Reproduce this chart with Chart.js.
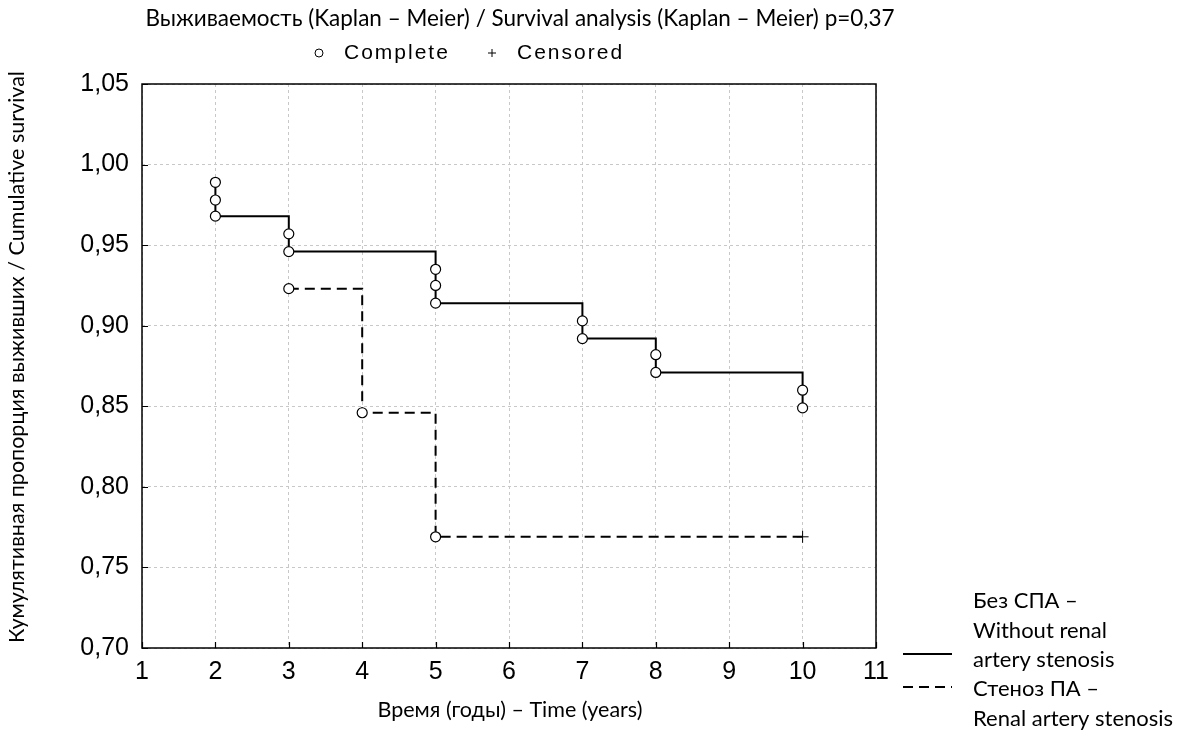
<!DOCTYPE html>
<html>
<head>
<meta charset="utf-8">
<script src="https://cdn.jsdelivr.net/npm/chart.js@4.4.1/dist/chart.umd.min.js"></script>
<style>
  html, body { margin: 0; background: #fff; }
  #wrap { width: 1178px; height: 738px; position: relative; }
</style>
</head>
<body>
<div id="wrap"><canvas id="km"></canvas></div>
<script>
// Kaplan-Meier steps
const noStenosisTime = [2, 2, 2, 3, 3, 5, 5, 5, 7, 7, 8, 8, 10, 10];
const noStenosisSurv = [0.989, 0.978, 0.968, 0.957, 0.946, 0.935, 0.925, 0.914, 0.903, 0.892, 0.882, 0.871, 0.860, 0.849];
const stenosisTime = [3, 4, 5, 10];
const stenosisSurv = [0.923, 0.846, 0.769, 0.769];
const stenosisCensored = [false, false, false, true];

const seriesNames = ["Без СПА – Without renal artery stenosis", "Стеноз ПА – Renal artery stenosis"];
const xMin = 1, xMax = 11;
const yMin = 0.70, yMax = 1.05, yStep = 0.05;

const titleText = "Выживаемость (Kaplan – Meier) / Survival analysis (Kaplan – Meier) p=0,37";
const xTitle = "Время (годы) – Time (years)";
const yTitle = "Кумулятивная пропорция выживших / Cumulative survival";
const legendLines1 = ["Без СПА –", "Without renal", "artery stenosis"];
const legendLines2 = ["Стеноз ПА –", "Renal artery stenosis"];

const textFont = "Lato, 'Open Sans', sans-serif";
const arial = "'Liberation Sans', Arial, sans-serif";

const toPoints = (xs, ys) => xs.map((x, i) => ({ x: x, y: ys[i] }));

// frame, inward ticks, titles and legend
const decorations = {
  id: "decorations",
  afterDraw(chart) {
    const ctx = chart.ctx;
    const a = chart.chartArea;
    const xs = chart.scales.x, ys = chart.scales.y;
    ctx.save();
    ctx.strokeStyle = "#000";
    ctx.lineWidth = 1.5;
    ctx.setLineDash([]);
    ctx.strokeRect(a.left, a.top, a.right - a.left, a.bottom - a.top);
    ctx.lineWidth = 1.2;
    ctx.beginPath();
    xs.ticks.forEach(t => {
      const px = Math.round(xs.getPixelForValue(t.value)) + 0.5;
      ctx.moveTo(px, a.bottom);
      ctx.lineTo(px, a.bottom - 6);
    });
    ys.ticks.forEach(t => {
      const py = Math.round(ys.getPixelForValue(t.value)) + 0.5;
      ctx.moveTo(a.left, py);
      ctx.lineTo(a.left + 6, py);
    });
    ctx.stroke();

    ctx.fillStyle = "#000";
    ctx.textBaseline = "middle";
    // title
    ctx.font = "22.5px " + textFont;
    ctx.textAlign = "center";
    ctx.fillText(titleText, 520, 19);

    // marker legend
    ctx.lineWidth = 1;
    ctx.beginPath();
    ctx.arc(319, 53, 4, 0, Math.PI * 2);
    ctx.stroke();
    ctx.beginPath();
    ctx.moveTo(488, 53); ctx.lineTo(496, 53);
    ctx.moveTo(492, 49); ctx.lineTo(492, 57);
    ctx.stroke();
    ctx.font = "21px " + arial;
    ctx.textAlign = "left";
    ctx.letterSpacing = "2px";
    ctx.fillText("Complete", 344, 53);
    ctx.fillText("Censored", 517, 53);
    ctx.letterSpacing = "0px";

    // axis titles
    ctx.font = "21.5px " + textFont;
    ctx.textAlign = "center";
    ctx.fillText(xTitle, 510, 710);
    ctx.save();
    ctx.translate(17, 357);
    ctx.rotate(-Math.PI / 2);
    ctx.fillText(yTitle, 0, 0);
    ctx.restore();

    // series legend
    ctx.textAlign = "left";
    ctx.font = "22px " + textFont;
    legendLines1.forEach((s, i) => ctx.fillText(s, 973, 601 + i * 29.5));
    legendLines2.forEach((s, i) => ctx.fillText(s, 973, 689 + i * 29.5));
    ctx.lineWidth = 2;
    ctx.beginPath();
    ctx.moveTo(903, 654); ctx.lineTo(952, 654);
    ctx.stroke();
    ctx.setLineDash([10, 6]);
    ctx.beginPath();
    ctx.moveTo(903, 687); ctx.lineTo(952, 687);
    ctx.stroke();
    ctx.restore();
  }
};

const chart = new Chart(document.getElementById("km"), {
  type: "scatter",
  plugins: [decorations],
  data: {
    datasets: [
      {
        label: seriesNames[0],
        data: toPoints(noStenosisTime, noStenosisSurv),
        showLine: true,
        stepped: "before",
        borderColor: "#000",
        borderWidth: 2,
        pointStyle: "circle",
        pointRadius: 5,
        pointBorderWidth: 1.2,
        pointBackgroundColor: "#fff",
        pointBorderColor: "#000",
      },
      {
        label: seriesNames[1],
        data: toPoints(stenosisTime, stenosisSurv),
        showLine: true,
        stepped: "before",
        borderColor: "#000",
        borderWidth: 2,
        borderDash: [10, 6],
        pointStyle: stenosisCensored.map(c => (c ? "cross" : "circle")),
        pointRadius: stenosisCensored.map(c => (c ? 6 : 5)),
        pointBorderWidth: stenosisCensored.map(c => (c ? 1 : 1.2)),
        pointBackgroundColor: "#fff",
        pointBorderColor: "#000",
      },
    ],
  },
  options: {
    responsive: true,
    maintainAspectRatio: false,
    animation: false,
    layout: { padding: { top: 84, right: 302, left: 0, bottom: 0 } },
    plugins: {
      legend: { display: false },
      tooltip: { enabled: false },
    },
    scales: {
      x: {
        type: "linear",
        min: xMin,
        max: xMax,
        afterFit: s => { s.height = 90; },
        ticks: {
          stepSize: 1,
          color: "#000",
          padding: 9,
          font: { family: arial, size: 25 },
        },
        grid: { color: "#c8c8c8", lineWidth: 1, drawTicks: false },
        border: { display: false, dash: [3, 3] },
      },
      y: {
        type: "linear",
        min: yMin,
        max: yMax,
        afterFit: s => { s.width = 142; },
        ticks: {
          stepSize: yStep,
          color: "#000",
          padding: 13,
          font: { family: arial, size: 25 },
          callback: v => v.toFixed(2).replace(".", ","),
        },
        grid: { color: "#c8c8c8", lineWidth: 1, drawTicks: false },
        border: { display: false, dash: [3, 3] },
      },
    },
  },
});
</script>
</body>
</html>
